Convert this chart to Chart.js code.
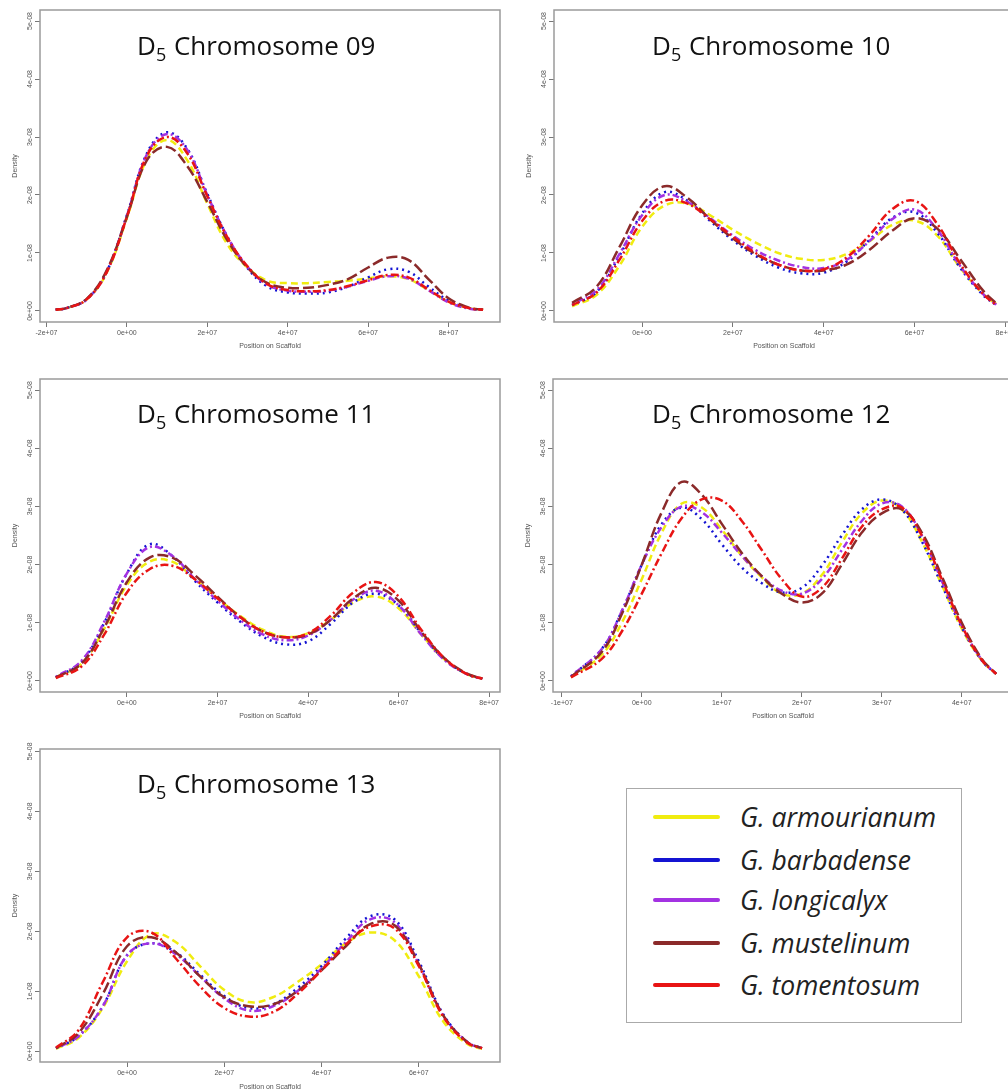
<!DOCTYPE html>
<html>
<head>
<meta charset="utf-8">
<script src="https://cdn.jsdelivr.net/npm/chart.js@4.4.1/dist/chart.umd.min.js"></script>
<style>
html, body { margin: 0; padding: 0; background: #fff; overflow: hidden; }
#page { position: relative; width: 1008px; height: 1091px; overflow: hidden; }
.panel { position: absolute; }
.ttl { position: absolute; font-family: 'Open Sans', sans-serif; font-size: 26px; color: #111; white-space: nowrap; line-height: 30px; }
.ttl sub { font-size: 18px; line-height: 0; vertical-align: -6px; margin-right: 1px; }
#legend { position: absolute; left: 626px; top: 788px; width: 336px; height: 235px; border: 1.5px solid #aaa; box-sizing: border-box; }
.lrow { position: absolute; left: 0; height: 30px; }
.lline { position: absolute; left: 26px; top: 13px; width: 67px; height: 4px; border-radius: 2px; }
.ltxt { position: absolute; left: 113px; top: 0; font-family: 'Open Sans', sans-serif; font-style: italic; font-size: 26.5px; line-height: 30px; color: #222; white-space: nowrap; }
</style>
</head>
<body>
<div id="page">
  <div class="panel" style="left:0;top:0"><canvas id="c09" width="512" height="360"></canvas></div>
  <div class="panel" style="left:514px;top:0"><canvas id="c10" width="512" height="360"></canvas></div>
  <div class="panel" style="left:0;top:369px"><canvas id="c11" width="512" height="360"></canvas></div>
  <div class="panel" style="left:513px;top:369px"><canvas id="c12" width="512" height="360"></canvas></div>
  <div class="panel" style="left:0;top:739px"><canvas id="c13" width="512" height="352"></canvas></div>

  <div class="ttl" style="left:137px;top:30px">D<sub>5</sub> Chromosome 09</div>
  <div class="ttl" style="left:652px;top:30px">D<sub>5</sub> Chromosome 10</div>
  <div class="ttl" style="left:137px;top:398px">D<sub>5</sub> Chromosome 11</div>
  <div class="ttl" style="left:652px;top:398px">D<sub>5</sub> Chromosome 12</div>
  <div class="ttl" style="left:137px;top:768px">D<sub>5</sub> Chromosome 13</div>

  <div id="legend"></div>
</div>

<script>
// --- espèces (légende) ---
const speciesNames = ['G. armourianum', 'G. barbadense', 'G. longicalyx', 'G. mustelinum', 'G. tomentosum'];
const speciesColors = ['#f0ec10', '#1414d2', '#a332e2', '#8b2a2a', '#e81414'];
const speciesDash = [[7, 4], [2, 4], [2, 3, 7, 3], [11, 4], [8, 3, 2, 3]];

// --- positions (x en 1e+07) et densités (y en 1e-08) ---
const pos09 = [-1.77, -1.5, -1.0, -0.5, 0, 0.5, 1.0, 1.5, 2.0, 2.5, 3.0, 3.5, 4.0, 4.5, 5.0, 5.5, 6.0, 6.5, 7.0, 7.5, 8.0, 8.5, 8.86];
const arm09 = [0.02, 0.05, 0.2, 0.66, 1.6, 2.62, 2.95, 2.6, 1.85, 1.15, 0.75, 0.52, 0.48, 0.48, 0.5, 0.52, 0.56, 0.6, 0.55, 0.36, 0.16, 0.05, 0.02];
const bar09 = [0.02, 0.05, 0.2, 0.68, 1.65, 2.72, 3.08, 2.8, 2.02, 1.28, 0.74, 0.42, 0.32, 0.3, 0.32, 0.42, 0.58, 0.72, 0.68, 0.42, 0.18, 0.05, 0.02];
const lon09 = [0.02, 0.05, 0.2, 0.68, 1.64, 2.7, 3.05, 2.78, 2.0, 1.28, 0.76, 0.45, 0.35, 0.33, 0.35, 0.42, 0.52, 0.6, 0.56, 0.36, 0.15, 0.04, 0.02];
const mus09 = [0.02, 0.05, 0.21, 0.7, 1.62, 2.6, 2.83, 2.5, 1.88, 1.22, 0.75, 0.48, 0.4, 0.4, 0.45, 0.55, 0.75, 0.92, 0.88, 0.55, 0.22, 0.06, 0.02];
const tom09 = [0.02, 0.05, 0.2, 0.67, 1.62, 2.68, 3.0, 2.72, 1.98, 1.27, 0.77, 0.46, 0.36, 0.34, 0.36, 0.43, 0.53, 0.62, 0.58, 0.37, 0.16, 0.05, 0.02];

const pos10 = [-1.54, -1.0, -0.5, 0, 0.5, 1.0, 1.5, 2.0, 2.5, 3.0, 3.5, 4.0, 4.5, 5.0, 5.5, 6.0, 6.5, 7.0, 7.5, 7.8];
const arm10 = [0.08, 0.28, 0.78, 1.45, 1.82, 1.85, 1.65, 1.4, 1.18, 1.0, 0.9, 0.88, 0.98, 1.2, 1.48, 1.56, 1.3, 0.75, 0.3, 0.12];
const bar10 = [0.1, 0.33, 0.95, 1.68, 2.05, 1.9, 1.55, 1.22, 0.95, 0.75, 0.65, 0.66, 0.85, 1.22, 1.6, 1.7, 1.35, 0.75, 0.28, 0.1];
const lon10 = [0.12, 0.36, 0.98, 1.65, 2.0, 1.88, 1.6, 1.3, 1.05, 0.87, 0.76, 0.74, 0.88, 1.2, 1.58, 1.75, 1.4, 0.78, 0.3, 0.11];
const mus10 = [0.14, 0.42, 1.1, 1.82, 2.15, 1.95, 1.58, 1.25, 0.98, 0.8, 0.7, 0.7, 0.8, 1.05, 1.38, 1.6, 1.42, 0.9, 0.36, 0.13];
const tom10 = [0.1, 0.32, 0.88, 1.55, 1.9, 1.85, 1.58, 1.28, 1.0, 0.8, 0.7, 0.72, 0.92, 1.3, 1.75, 1.9, 1.5, 0.82, 0.3, 0.1];

const pos11 = [-1.57, -1.0, -0.5, 0, 0.5, 1.0, 1.5, 2.0, 2.5, 3.0, 3.5, 4.0, 4.5, 5.0, 5.5, 6.0, 6.5, 7.0, 7.5, 7.85];
const arm11 = [0.06, 0.3, 0.9, 1.65, 2.05, 2.05, 1.75, 1.42, 1.12, 0.88, 0.76, 0.82, 1.05, 1.35, 1.45, 1.25, 0.8, 0.38, 0.12, 0.04];
const bar11 = [0.06, 0.33, 1.0, 1.85, 2.35, 2.15, 1.72, 1.35, 1.02, 0.76, 0.63, 0.68, 0.98, 1.35, 1.5, 1.3, 0.82, 0.38, 0.12, 0.04];
const lon11 = [0.07, 0.35, 1.02, 1.85, 2.3, 2.15, 1.75, 1.38, 1.05, 0.8, 0.7, 0.78, 1.05, 1.4, 1.55, 1.3, 0.8, 0.37, 0.12, 0.04];
const mus11 = [0.06, 0.3, 0.92, 1.7, 2.12, 2.12, 1.82, 1.45, 1.1, 0.85, 0.75, 0.8, 1.05, 1.42, 1.6, 1.38, 0.85, 0.4, 0.13, 0.04];
const tom11 = [0.05, 0.25, 0.8, 1.52, 1.92, 1.98, 1.75, 1.42, 1.1, 0.85, 0.75, 0.82, 1.12, 1.52, 1.7, 1.45, 0.88, 0.4, 0.12, 0.04];

const pos12 = [-0.885, -0.5, -0.25, 0, 0.25, 0.5, 0.75, 1.0, 1.25, 1.5, 1.75, 2.0, 2.25, 2.5, 2.75, 3.0, 3.25, 3.5, 3.75, 4.0, 4.25, 4.43];
const arm12 = [0.07, 0.45, 1.0, 1.75, 2.55, 3.05, 2.98, 2.6, 2.15, 1.78, 1.5, 1.5, 1.82, 2.38, 2.88, 3.1, 2.95, 2.4, 1.65, 0.9, 0.35, 0.12];
const bar12 = [0.08, 0.55, 1.2, 2.0, 2.7, 2.98, 2.78, 2.35, 1.95, 1.68, 1.52, 1.6, 1.98, 2.5, 2.95, 3.12, 2.95, 2.4, 1.65, 0.92, 0.35, 0.12];
const lon12 = [0.08, 0.55, 1.2, 2.0, 2.65, 3.0, 2.9, 2.55, 2.15, 1.8, 1.55, 1.5, 1.75, 2.25, 2.75, 3.05, 3.0, 2.5, 1.72, 0.95, 0.36, 0.12];
const mus12 = [0.07, 0.5, 1.15, 2.0, 2.9, 3.42, 3.2, 2.7, 2.2, 1.8, 1.5, 1.35, 1.5, 2.0, 2.55, 2.88, 2.95, 2.55, 1.8, 1.0, 0.38, 0.12];
const tom12 = [0.06, 0.38, 0.85, 1.5, 2.2, 2.8, 3.12, 3.1, 2.75, 2.25, 1.75, 1.45, 1.6, 2.1, 2.65, 2.95, 2.98, 2.5, 1.75, 0.95, 0.36, 0.12];

const pos13 = [-1.46, -1.0, -0.5, 0, 0.5, 1.0, 1.5, 2.0, 2.5, 3.0, 3.5, 4.0, 4.5, 5.0, 5.5, 6.0, 6.5, 7.0, 7.3];
const arm13 = [0.04, 0.22, 0.72, 1.5, 1.95, 1.82, 1.42, 1.02, 0.82, 0.9, 1.15, 1.45, 1.8, 1.98, 1.85, 1.25, 0.5, 0.12, 0.04];
const bar13 = [0.05, 0.25, 0.75, 1.6, 1.8, 1.65, 1.28, 0.92, 0.72, 0.78, 1.05, 1.42, 1.88, 2.25, 2.2, 1.5, 0.62, 0.15, 0.05];
const lon13 = [0.05, 0.25, 0.75, 1.6, 1.8, 1.62, 1.25, 0.88, 0.68, 0.75, 1.0, 1.38, 1.82, 2.2, 2.15, 1.45, 0.6, 0.15, 0.05];
const mus13 = [0.05, 0.3, 0.95, 1.75, 1.9, 1.65, 1.25, 0.9, 0.75, 0.78, 1.0, 1.35, 1.75, 2.12, 2.1, 1.45, 0.6, 0.15, 0.05];
const tom13 = [0.06, 0.35, 1.15, 1.9, 1.98, 1.55, 1.08, 0.72, 0.58, 0.65, 0.95, 1.35, 1.78, 2.08, 2.05, 1.42, 0.58, 0.14, 0.05];

// --- graduations ---
const yTicks = [0, 1, 2, 3, 4, 5];
const xTicks09 = [-2, 0, 2, 4, 6, 8];
const xTicks10 = [0, 2, 4, 6, 8];
const xTicks11 = [0, 2, 4, 6, 8];
const xTicks12 = [-1, 0, 1, 2, 3, 4];
const xTicks13 = [0, 2, 4, 6];

// cadre gris autour de la zone de tracé (style R)
const plotBox = {
    id: 'plotBox',
    afterDraw(chart) {
        const a = chart.chartArea, ctx = chart.ctx;
        ctx.save();
        ctx.strokeStyle = '#9a9a9a';
        ctx.lineWidth = 1.5;
        ctx.strokeRect(a.left, a.top, a.right - a.left, a.bottom - a.top);
        ctx.restore();
    }
};

function fmtX(v) { return v === 0 ? '0e+00' : v + 'e+07'; }
function fmtY(v) { return v === 0 ? '0e+00' : v + 'e-08'; }

function lukis(id, xs, series, xr, yr, xTicks, box) {
    const datasets = series.map((vals, i) => ({
        label: speciesNames[i],
        data: xs.map((x, k) => ({ x: x, y: vals[k] })),
        borderColor: speciesColors[i],
        borderDash: speciesDash[i],
        borderWidth: 2.5,
        pointRadius: 0,
        tension: 0.4,
        fill: false,
        order: series.length - i
    }));
    const tickStyle = { color: '#555', font: { family: 'Liberation Sans', size: 7 } };
    new Chart(document.getElementById(id), {
        type: 'line',
        data: { datasets: datasets },
        plugins: [plotBox],
        options: {
            responsive: false, animation: false, devicePixelRatio: 1,
            layout: { padding: { top: box.top, right: box.right, left: 0, bottom: 0 } },
            plugins: { legend: { display: false }, tooltip: { enabled: false } },
            scales: {
                x: {
                    type: 'linear', min: xr[0], max: xr[1],
                    afterBuildTicks: s => { s.ticks = xTicks.map(v => ({ value: v })); },
                    afterFit: s => { s.height = box.xh; },
                    border: { display: false },
                    grid: { drawOnChartArea: false, drawTicks: true, tickLength: 5, tickColor: '#777' },
                    ticks: Object.assign({ padding: 2, maxRotation: 0, autoSkip: false, callback: fmtX }, tickStyle),
                    title: { display: true, text: 'Position on Scaffold', color: '#555', font: { family: 'Liberation Sans', size: 7 }, padding: { top: 0, bottom: box.tb } }
                },
                y: {
                    type: 'linear', min: yr[0], max: yr[1],
                    afterBuildTicks: s => { s.ticks = yTicks.map(v => ({ value: v })); },
                    afterFit: s => { s.width = 40; },
                    border: { display: false },
                    grid: { drawOnChartArea: false, drawTicks: true, tickLength: 5, tickColor: '#777' },
                    ticks: Object.assign({ padding: -5, minRotation: 90, maxRotation: 90, crossAlign: 'center', autoSkip: false, callback: fmtY }, tickStyle),
                    title: { display: true, text: 'Density', color: '#555', font: { family: 'Liberation Sans', size: 7 }, padding: { top: 11, bottom: 0 } }
                }
            }
        }
    });
}

lukis('c09', pos09, [arm09, bar09, lon09, mus09, tom09], [-2.16, 9.28], [-0.19, 5.19], xTicks09, { top: 10, right: 12, xh: 38, tb: 10 });
lukis('c10', pos10, [arm10, bar10, lon10, mus10, tom10], [-1.94, 8.19], [-0.19, 5.19], xTicks10, { top: 10, right: 12, xh: 38, tb: 10 });
lukis('c11', pos11, [arm11, bar11, lon11, mus11, tom11], [-1.92, 8.24], [-0.19, 5.19], xTicks11, { top: 10, right: 12, xh: 37, tb: 8.5 });
lukis('c12', pos12, [arm12, bar12, lon12, mus12, tom12], [-1.11, 4.64], [-0.19, 5.19], xTicks12, { top: 10, right: 12, xh: 37, tb: 8.5 });
lukis('c13', pos13, [arm13, bar13, lon13, mus13, tom13], [-1.79, 7.67], [-0.18, 5.04], xTicks13, { top: 10, right: 12, xh: 29, tb: 0 });

// petunjuk: légende HTML
const legendRows = [28, 71, 111, 154, 196];
const lg = document.getElementById('legend');
speciesNames.forEach((n, i) => {
    const row = document.createElement('div');
    row.className = 'lrow';
    row.style.top = (legendRows[i] - 15) + 'px';
    row.innerHTML = '<span class="lline" style="background:' + speciesColors[i] + '"></span><span class="ltxt">' + n + '</span>';
    lg.appendChild(row);
});
</script>
</body>
</html>
